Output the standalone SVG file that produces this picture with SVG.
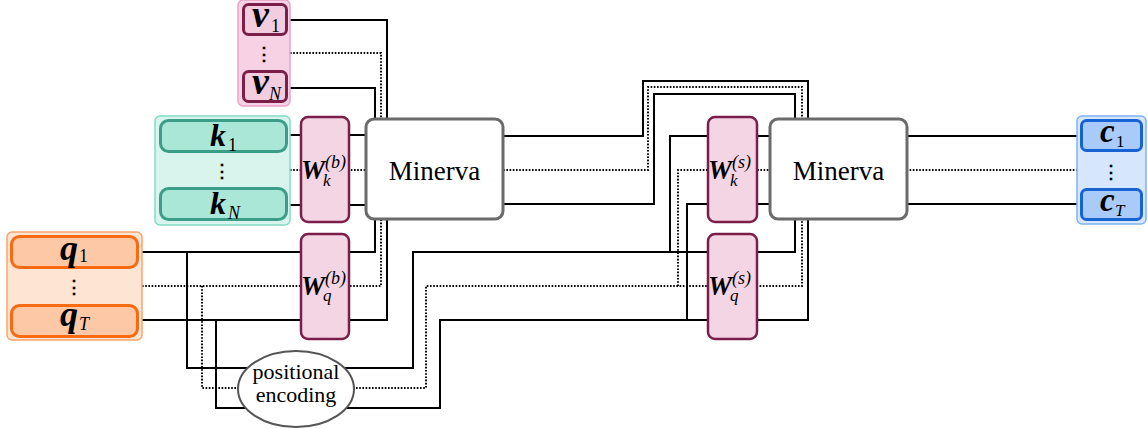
<svg xmlns="http://www.w3.org/2000/svg" width="1148" height="429" viewBox="0 0 1148 429">
<style>
.ln{fill:none;stroke:#000;stroke-width:2}
.dt{fill:none;stroke:#000;stroke-width:2;stroke-dasharray:1.6 1.6}
.mv{fill:#fff;stroke:#6b6b6b;stroke-width:3}
.w{fill:#f4d5e3;stroke:#7a1f49;stroke-width:2.5}
.vc{fill:#f6d2e4;stroke:#eaa4c8;stroke-width:1.5}
.vb{fill:#f2cde0;stroke:#7a1f49;stroke-width:3}
.kc{fill:#d9f4ed;stroke:#82dbc4;stroke-width:1.5}
.kb{fill:#aae7d7;stroke:#3d9e87;stroke-width:3}
.qc{fill:#fee4d3;stroke:#f7a56e;stroke-width:1.5}
.qb{fill:#fcc8a6;stroke:#f86b12;stroke-width:3}
.cc{fill:#d6e6fd;stroke:#80b3f3;stroke-width:1.5}
.cb{fill:#a9cbfa;stroke:#1763d2;stroke-width:3}
.sym{font-weight:bold;font-style:italic;fill:#000}
.it{font-style:italic;fill:#000}
.lbl{fill:#000;text-anchor:middle}
.dots{font-size:18px;font-weight:bold;text-anchor:middle;fill:#000}
</style>
<g id="connectors">
<path class="ln" d="M290,20 H387 V125"/>
<path class="dt" d="M290,53 H381 V125"/>
<path class="ln" d="M290,88 H375 V125"/>
<path class="ln" d="M290,135 H370"/>
<path class="dt" d="M290,170 H370"/>
<path class="ln" d="M290,205 H370"/>
<path class="ln" d="M142,252 H375 V212"/>
<path class="dt" d="M142,286 H381 V212"/>
<path class="ln" d="M142,320 H387 V212"/>
<path class="ln" d="M187,252 V368 H413 V252 H795 V212"/>
<path class="dt" d="M202,286 V388 H426 V286 H802 V212"/>
<path class="ln" d="M216,320 V408 H440 V320 H808 V212"/>
<path class="ln" d="M500,136 H643 V81 H808 V125"/>
<path class="dt" d="M500,170 H648 V87 H802 V125"/>
<path class="ln" d="M500,204 H654 V94 H795 V125"/>
<path class="ln" d="M670,252 V136 H775"/>
<path class="dt" d="M678,286 V170 H775"/>
<path class="ln" d="M687,320 V204 H775"/>
<path class="ln" d="M900,136 H1080"/>
<path class="dt" d="M900,170 H1080"/>
<path class="ln" d="M900,204 H1080"/>
</g>
<g font-family="'Liberation Serif', 'Times New Roman', 'DejaVu Serif', serif">
<g id="v">
<rect class="vc" x="238" y="0" width="52" height="106" rx="5"/>
<rect class="vb" x="243.5" y="4.5" width="43" height="30" rx="5"/>
<rect class="vb" x="243.5" y="71.5" width="43" height="30" rx="5"/>
<text class="sym" x="252" y="27" font-size="38">v</text><text x="271" y="32" font-size="18">1</text>
<text class="dots" x="264" y="60" font-family="'DejaVu Serif', serif">⋮</text>
<text class="sym" x="252" y="94" font-size="38">v</text><text class="it" x="269" y="100" font-size="18">N</text>
</g>
<g id="k">
<rect class="kc" x="155" y="116" width="135" height="109" rx="5"/>
<rect class="kb" x="160.5" y="120.5" width="126" height="31" rx="8"/>
<rect class="kb" x="160.5" y="188.5" width="126" height="31" rx="8"/>
<text class="sym" x="210" y="146" font-size="32">k</text><text x="228" y="151" font-size="18">1</text>
<text class="dots" x="222" y="177" font-family="'DejaVu Serif', serif">⋮</text>
<text class="sym" x="210" y="214" font-size="32">k</text><text class="it" x="228" y="219" font-size="18">N</text>
</g>
<g id="q">
<rect class="qc" x="7" y="232" width="135" height="108" rx="5"/>
<rect class="qb" x="11.5" y="236.5" width="126" height="31" rx="8"/>
<rect class="qb" x="11.5" y="305.5" width="126" height="31" rx="8"/>
<text class="sym" x="60" y="260" font-size="36">q</text><text x="79" y="262" font-size="18">1</text>
<text class="dots" x="74" y="293" font-family="'DejaVu Serif', serif">⋮</text>
<text class="sym" x="60" y="326" font-size="36">q</text><text class="it" x="79" y="330" font-size="18">T</text>
</g>
<g id="c">
<rect class="cc" x="1077" y="116" width="69" height="108" rx="5"/>
<rect class="cb" x="1081.5" y="120.5" width="60" height="30" rx="5"/>
<rect class="cb" x="1081.5" y="189.5" width="60" height="30" rx="5"/>
<text class="sym" x="1100" y="142" font-size="33">c</text><text x="1116" y="147" font-size="17">1</text>
<text class="dots" x="1111" y="178" font-family="'DejaVu Serif', serif">⋮</text>
<text class="sym" x="1100" y="211" font-size="33">c</text><text class="it" x="1115" y="216" font-size="17">T</text>
</g>
<g id="Wkb">
<rect class="w" x="301" y="117" width="48" height="105" rx="7"/>
<text class="sym" x="301" y="179" font-size="27">W</text><text class="it" x="325" y="168" font-size="18">(b)</text><text class="it" x="323" y="186" font-size="17">k</text>
</g>
<g id="Wqb">
<rect class="w" x="301" y="234" width="48" height="105" rx="7"/>
<text class="sym" x="301" y="295" font-size="27">W</text><text class="it" x="325" y="284" font-size="18">(b)</text><text class="it" x="323" y="301" font-size="17">q</text>
</g>
<g id="Wks">
<rect class="w" x="708" y="117" width="49" height="105" rx="7"/>
<text class="sym" x="708" y="179" font-size="27">W</text><text class="it" x="732" y="168" font-size="18">(s)</text><text class="it" x="730" y="186" font-size="17">k</text>
</g>
<g id="Wqs">
<rect class="w" x="708" y="234" width="49" height="105" rx="7"/>
<text class="sym" x="708" y="295" font-size="27">W</text><text class="it" x="732" y="284" font-size="18">(s)</text><text class="it" x="730" y="301" font-size="17">q</text>
</g>
<g id="minerva1">
<rect class="mv" x="366" y="119" width="137" height="100" rx="8"/>
<text class="lbl" x="434.5" y="180" font-size="27">Minerva</text>
</g>
<g id="minerva2">
<rect class="mv" x="770" y="119" width="137" height="100" rx="8"/>
<text class="lbl" x="838.5" y="180" font-size="27">Minerva</text>
</g>
<g id="posenc">
<ellipse cx="296" cy="389" rx="58" ry="38" fill="#fff" stroke="#555" stroke-width="2"/>
<text class="lbl" x="296" y="379" font-size="22">positional</text>
<text class="lbl" x="296" y="402" font-size="22">encoding</text>
</g>
</g>
</svg>
